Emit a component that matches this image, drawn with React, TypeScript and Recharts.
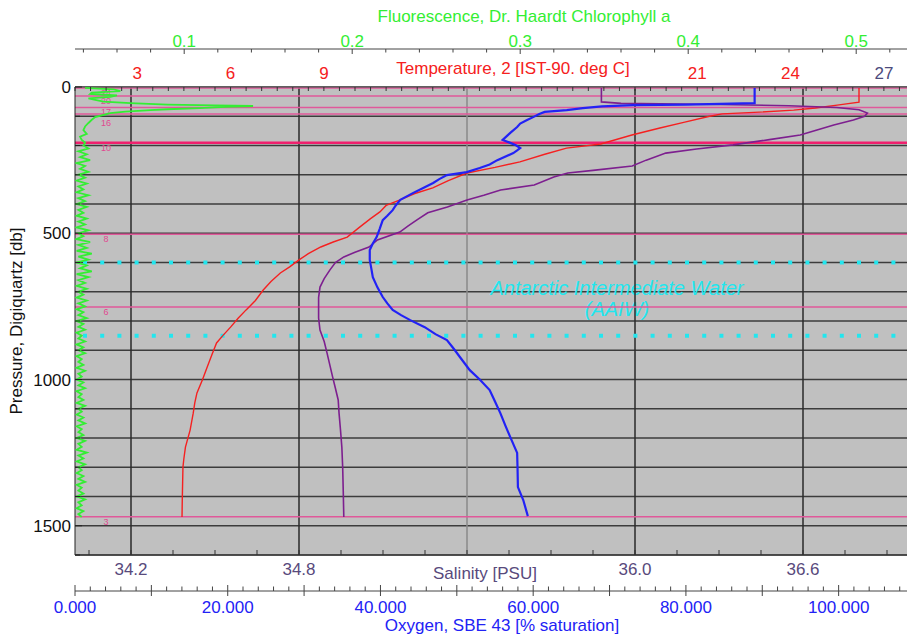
import { CartesianGrid, ReferenceLine, Scatter, ScatterChart, XAxis, YAxis } from "recharts";

const FONT = '"Liberation Sans", Arial, sans-serif';

const RED = "#f52020";
const PURPLE = "#7d1f8f";
const BLUE = "#2222f5";
const GREEN = "#33ee33";
const SAL_TEXT = "#584a7c";
const PINK = "#e0589a";
const CYAN = "#22e6ee";

// [pressure dbar, temperature deg C]
const temperature: [number, number][] = [
  [3, 26.2], [52, 26.2], [62, 25.5], [72, 24.8], [79, 24.1], [86, 23.0], [92, 21.8], [100, 21.4],
  [120, 20.6], [140, 19.8], [164, 18.9], [195, 17.9], [209, 16.8], [230, 16.1], [256, 15.3],
  [275, 14.5], [294, 13.6], [320, 13.0], [345, 12.5], [365, 11.9], [386, 11.45], [405, 11.0],
  [427, 10.8], [450, 10.5], [479, 10.15], [513, 9.75], [530, 9.3], [547, 8.9], [570, 8.5],
  [591, 8.2], [615, 7.9], [636, 7.6], [665, 7.3], [694, 7.05], [730, 6.8], [762, 6.5],
  [790, 6.25], [821, 6.0], [850, 5.75], [875, 5.55], [915, 5.4], [957, 5.25], [1000, 5.1],
  [1046, 4.92], [1080, 4.85], [1115, 4.8], [1173, 4.7], [1231, 4.55], [1270, 4.5], [1299, 4.47],
  [1350, 4.46], [1400, 4.45], [1470, 4.44],
];

// [pressure dbar, salinity PSU]
const salinity: [number, number][] = [
  [3, 35.88], [51, 35.88], [56, 35.95], [60, 36.3], [64, 36.55], [70, 36.72], [78, 36.8],
  [89, 36.83], [100, 36.82], [113, 36.78], [130, 36.71], [147, 36.65], [164, 36.59], [180, 36.48],
  [198, 36.35], [212, 36.22], [226, 36.11], [250, 36.04], [270, 35.99], [285, 35.85], [294, 35.76],
  [308, 35.71], [335, 35.64], [352, 35.52], [370, 35.46], [386, 35.4], [410, 35.33], [430, 35.26],
  [455, 35.22], [475, 35.19], [496, 35.16], [523, 35.08], [547, 35.05], [565, 35.0], [581, 34.96],
  [600, 34.93], [626, 34.91], [655, 34.89], [684, 34.875], [720, 34.87], [752, 34.87], [790, 34.87],
  [831, 34.875], [870, 34.89], [909, 34.9], [950, 34.91], [991, 34.92], [1030, 34.93], [1070, 34.94],
  [1115, 34.943], [1170, 34.948], [1231, 34.953], [1300, 34.956], [1380, 34.958], [1470, 34.96],
];

// [pressure dbar, oxygen % saturation]
const oxygen: [number, number][] = [
  [3, 89.0], [55, 89.0], [60, 80.0], [62, 73.1], [66, 69.0], [72, 66.5], [79, 64.4], [85, 61.5],
  [92, 60.8], [103, 60.0], [113, 59.2], [125, 58.3], [137, 57.9], [157, 57.0], [181, 56.0],
  [191, 57.0], [200, 57.8], [209, 58.3], [217, 57.9], [226, 57.4], [250, 55.3], [265, 54.3],
  [277, 53.0], [291, 51.3], [301, 48.7], [315, 47.7], [328, 46.9], [345, 45.6], [362, 44.3],
  [386, 42.6], [405, 42.0], [421, 41.6], [440, 40.9], [455, 40.3], [485, 39.9], [513, 39.5],
  [535, 39.0], [557, 38.6], [591, 38.6], [620, 38.8], [650, 39.0], [685, 39.6], [718, 40.3],
  [740, 40.9], [762, 41.6], [780, 42.7], [797, 43.9], [821, 45.8], [845, 47.2], [865, 48.7],
  [895, 49.6], [923, 50.4], [968, 51.7], [1000, 53.0], [1036, 54.3], [1075, 55.0], [1115, 55.7],
  [1160, 56.4], [1197, 57.0], [1251, 57.9], [1300, 57.95], [1368, 58.0], [1412, 58.7], [1467, 59.3],
];

// [pressure dbar, chlorophyll fluorescence]
const fluorescence: [number, number][] = [
  [3, 0.041], [8, 0.058], [14, 0.062], [19, 0.045], [24, 0.044], [29, 0.06], [34, 0.056],
  [39, 0.043], [44, 0.047], [50, 0.052], [55, 0.068], [60, 0.09], [63, 0.118], [65, 0.141],
  [68, 0.125], [72, 0.109], [76, 0.09], [79, 0.08], [84, 0.065], [89, 0.056], [95, 0.052],
  [103, 0.047], [112, 0.045], [123, 0.043], [135, 0.041], [147, 0.04], [160, 0.042], [170, 0.038],
  [181, 0.039], [190, 0.041],
  [200, 0.04], [210, 0.043], [220, 0.037], [230, 0.042], [240, 0.038], [250, 0.044], [260, 0.036],
  [270, 0.041], [280, 0.038], [290, 0.043], [300, 0.037], [310, 0.041], [320, 0.036], [330, 0.042],
  [340, 0.037], [350, 0.04], [360, 0.036], [370, 0.043], [380, 0.037], [390, 0.041], [400, 0.036],
  [410, 0.042], [420, 0.037], [430, 0.04], [440, 0.036], [450, 0.042], [460, 0.037], [470, 0.041],
  [480, 0.036], [490, 0.043], [500, 0.037], [510, 0.04], [520, 0.036], [530, 0.044], [540, 0.037],
  [550, 0.042], [560, 0.036], [570, 0.045], [580, 0.037], [590, 0.043], [600, 0.036], [610, 0.042],
  [620, 0.038], [630, 0.045], [640, 0.036], [650, 0.043], [660, 0.037], [670, 0.041], [680, 0.036],
  [690, 0.042], [700, 0.037], [710, 0.04], [720, 0.036], [730, 0.042], [740, 0.037], [750, 0.041],
  [760, 0.036], [770, 0.04], [780, 0.037], [790, 0.042], [800, 0.036], [810, 0.04], [820, 0.037],
  [830, 0.041], [840, 0.036], [850, 0.039], [860, 0.037], [870, 0.041], [880, 0.036], [890, 0.04],
  [900, 0.037], [910, 0.041], [920, 0.036], [930, 0.039], [940, 0.037], [950, 0.04], [960, 0.036],
  [970, 0.041], [980, 0.037], [990, 0.039], [1000, 0.036], [1010, 0.04], [1020, 0.037], [1030, 0.041],
  [1040, 0.036], [1050, 0.039], [1060, 0.037], [1070, 0.04], [1080, 0.036], [1090, 0.041],
  [1100, 0.037], [1110, 0.039], [1120, 0.036], [1130, 0.04], [1140, 0.037], [1150, 0.041],
  [1160, 0.036], [1170, 0.039], [1180, 0.037], [1190, 0.04], [1200, 0.036], [1210, 0.041],
  [1220, 0.037], [1230, 0.039], [1240, 0.036], [1250, 0.042], [1260, 0.037], [1270, 0.04],
  [1280, 0.036], [1290, 0.041], [1300, 0.037], [1310, 0.039], [1320, 0.036], [1330, 0.04],
  [1340, 0.037], [1350, 0.041], [1360, 0.036], [1370, 0.039], [1380, 0.037], [1390, 0.04],
  [1400, 0.036], [1410, 0.041], [1420, 0.037], [1430, 0.039], [1440, 0.036], [1450, 0.04],
  [1460, 0.037], [1470, 0.039],
];

// bottle stops
const BOTTLE_P = [3, 31, 70, 92, 191, 503, 752, 1469];
const BOTTLE_LABELS = ["24", "20", "17", "16", "10", "8", "6", "3"];
const AAIW_P = [600, 850];

const TEMP_LABELS = [3, 6, 9, 21, 24, 27];
const FLUOR_LABELS = [0.1, 0.2, 0.3, 0.4, 0.5];
const SAL_LABELS = [34.2, 34.8, 36.0, 36.6];
const SAL_GRID = [34.2, 34.8, 35.4, 36.0, 36.6];
const OXY_LABELS = [0, 20, 40, 60, 80, 100];
const P_LABELS = [0, 500, 1000, 1500];

function steps(a: number, b: number, step: number) {
  const out: number[] = [];
  for (let i = 0; a + i * step <= b + 1e-9; i++) out.push(Math.round((a + i * step) * 1000) / 1000);
  return out;
}

const TEMP_TICKS = steps(1, 28, 0.5);
const FLUOR_TICKS = steps(0.04, 0.53, 0.02);
const SAL_TICKS = steps(34.05, 36.95, 0.15);
const OXY_TICKS = steps(0, 110, 2);
const P_TICKS = steps(0, 1600, 100);

const near = (list: number[], v: number) => list.some((l) => Math.abs(l - v) < 1e-6);

function TempTick({ x, y, payload }: any) {
  const v = payload.value;
  return (
    <g>
      <line x1={x} y1={y} x2={x} y2={y + 4} stroke="#333" />
      {near(TEMP_LABELS, v) && (
        <text x={x} y={y - 8} textAnchor="middle" fontSize={17} fontFamily={FONT} fill={v === 27 ? "#4c4a7c" : RED}>
          {v}
        </text>
      )}
    </g>
  );
}

function FluorTick({ x, y, payload }: any) {
  const v = payload.value;
  const major = near(FLUOR_LABELS, v);
  return (
    <g>
      <line x1={x} y1={y} x2={x} y2={y + (major ? 5 : 3.5)} stroke="#444" />
      {major && (
        <text x={x} y={y - 2.5} textAnchor="middle" fontSize={17} fontFamily={FONT} fill={GREEN}>
          {v}
        </text>
      )}
    </g>
  );
}

function SalTick({ x, y, payload }: any) {
  const v = payload.value;
  return (
    <g>
      <line x1={x} y1={y} x2={x} y2={y - 5} stroke="#333" />
      {near(SAL_LABELS, v) && (
        <text x={x} y={y + 20} textAnchor="middle" fontSize={17} fontFamily={FONT} fill={SAL_TEXT}>
          {v.toFixed(1)}
        </text>
      )}
    </g>
  );
}

function OxyTick({ x, y, payload }: any) {
  const v = payload.value;
  const major = v % 10 === 0;
  return (
    <g>
      <line x1={x} y1={major ? y + 5 : y} x2={x} y2={y - (major ? 6 : 4.5)} stroke="#444" />
      {near(OXY_LABELS, v) && (
        <text x={x} y={y + 21.5} textAnchor="middle" fontSize={17} fontFamily={FONT} fill={BLUE}>
          {v.toFixed(3)}
        </text>
      )}
    </g>
  );
}

function PresTick({ x, y, payload }: any) {
  const v = payload.value;
  return (
    <g>
      <line x1={x} y1={y} x2={x + (v % 500 === 0 ? 7 : 5)} y2={y} stroke="#222" />
      {near(P_LABELS, v) && (
        <text x={x - 4} y={y + 6} textAnchor="end" fontSize={17} fontFamily={FONT} fill="#111">
          {v}
        </text>
      )}
    </g>
  );
}

const noDot = () => <g />;

// bottle number sits just under its line; nudged further down when the stop above is close
function BottleLabel(text: string, extra: number) {
  return (props: any) => {
    const vb = props.viewBox || {};
    return (
      <text x={(vb.x ?? 75) + 31} y={(vb.y ?? 0) + 8 + extra} textAnchor="middle" fontSize={9} fontFamily={FONT} fill="#e04890">
        {text}
      </text>
    );
  };
}

export default function App() {
  const tData = temperature.map(([p, t]) => ({ p, t }));
  const sData = salinity.map(([p, s]) => ({ p, s }));
  const oData = oxygen.map(([p, o]) => ({ p, o }));
  const fData = fluorescence.map(([p, f]) => ({ p, f }));

  return (
    <div style={{ position: "fixed", left: 0, top: 0, width: 907, height: 636, overflow: "hidden", background: "#fff" }}>
      <ScatterChart width={940} height={636} margin={{ top: 0, right: 25, bottom: 0, left: 0 }}>
        <XAxis xAxisId="b_fluor" orientation="top" type="number" dataKey="f" domain={[0.035, 0.535]} ticks={FLUOR_TICKS}
          interval={0} height={49} tickSize={0} tickMargin={0} tickLine={false} axisLine={{ stroke: "#444" }}
          tick={FluorTick} allowDataOverflow />
        <XAxis xAxisId="a_temp" orientation="top" type="number" dataKey="t" domain={[1, 28]} ticks={TEMP_TICKS}
          interval={0} height={38} tickSize={0} tickMargin={0} tickLine={false} axisLine={{ stroke: "#555" }}
          tick={TempTick} allowDataOverflow />
        <XAxis xAxisId="b_oxy" orientation="bottom" type="number" dataKey="o" domain={[0, 110]} ticks={OXY_TICKS}
          interval={0} height={45} tickSize={0} tickMargin={0} tickLine={false} axisLine={{ stroke: "#444" }}
          tick={OxyTick} allowDataOverflow />
        <XAxis xAxisId="a_sal" orientation="bottom" type="number" dataKey="s" domain={[34, 37]} ticks={SAL_TICKS}
          interval={0} height={36} tickSize={0} tickMargin={0} tickLine={false} axisLine={{ stroke: "#333" }}
          tick={SalTick} allowDataOverflow />
        <YAxis yAxisId="P" type="number" dataKey="p" domain={[0, 1600]} reversed ticks={P_TICKS} interval={0}
          width={75} tickSize={0} tickMargin={0} tickLine={false} axisLine={{ stroke: "#222" }} tick={PresTick}
          allowDataOverflow />

        <CartesianGrid xAxisId="a_sal" yAxisId="P" vertical={false} stroke="#3c3c3c" strokeWidth={1.5} fill="#c0c0c0" fillOpacity={1} />

        {SAL_GRID.map((v) => (
          <ReferenceLine key={"g" + v} xAxisId="a_sal" yAxisId="P" x={v} stroke={v === 35.4 ? "#8a8a8a" : "#2a2a2a"} strokeWidth={1.5} />
        ))}
        {BOTTLE_P.map((p, i) => {
          const extra = i > 0 && p - BOTTLE_P[i - 1] < 25 ? 4 : 0;
          return (
            <ReferenceLine key={"b" + p} xAxisId="a_sal" yAxisId="P" y={p} stroke={p === 191 ? "#f0206e" : PINK}
              strokeWidth={p === 191 ? 2.5 : 1.5} label={BottleLabel(BOTTLE_LABELS[i], extra)} />
          );
        })}
        {AAIW_P.map((p) => (
          <ReferenceLine key={"a" + p} xAxisId="a_sal" yAxisId="P" y={p} stroke={CYAN} strokeWidth={4}
            strokeDasharray="4 13.2" strokeDashoffset={-8} />
        ))}

        <Scatter data={fData} xAxisId="b_fluor" yAxisId="P" fill={GREEN} line={{ stroke: GREEN, strokeWidth: 1.8 }} lineType="joint" shape={noDot} isAnimationActive={false} />
        <Scatter data={tData} xAxisId="a_temp" yAxisId="P" fill={RED} line={{ stroke: RED, strokeWidth: 1.4 }} lineType="joint" shape={noDot} isAnimationActive={false} />
        <Scatter data={sData} xAxisId="a_sal" yAxisId="P" fill={PURPLE} line={{ stroke: PURPLE, strokeWidth: 1.6 }} lineType="joint" shape={noDot} isAnimationActive={false} />
        <Scatter data={oData} xAxisId="b_oxy" yAxisId="P" fill={BLUE} line={{ stroke: BLUE, strokeWidth: 2.2 }} lineType="joint" shape={noDot} isAnimationActive={false} />

        <text x={524} y={22} textAnchor="middle" fontSize={17} fontFamily={FONT} fill={GREEN}>
          Fluorescence, Dr. Haardt Chlorophyll a
        </text>
        <text x={513} y={74} textAnchor="middle" fontSize={17} fontFamily={FONT} fill={RED}>
          Temperature, 2 [IST-90. deg C]
        </text>
        <text x={485} y={579} textAnchor="middle" fontSize={17} fontFamily={FONT} fill={SAL_TEXT}>
          Salinity [PSU]
        </text>
        <text x={502} y={631} textAnchor="middle" fontSize={17} fontFamily={FONT} fill={BLUE}>
          Oxygen, SBE 43 [% saturation]
        </text>
        <text x={22} y={321} transform="rotate(-90 22 321)" textAnchor="middle" fontSize={17} fontFamily={FONT} fill="#111">
          Pressure, Digiquartz [db]
        </text>
        <text x={617} y={295} textAnchor="middle" fontSize={20} fontStyle="italic" fontFamily={FONT} fill={CYAN}>
          Antarctic Intermediate Water
        </text>
        <text x={617} y={316} textAnchor="middle" fontSize={20} fontStyle="italic" fontFamily={FONT} fill={CYAN}>
          (AAIW)
        </text>
      </ScatterChart>
    </div>
  );
}
